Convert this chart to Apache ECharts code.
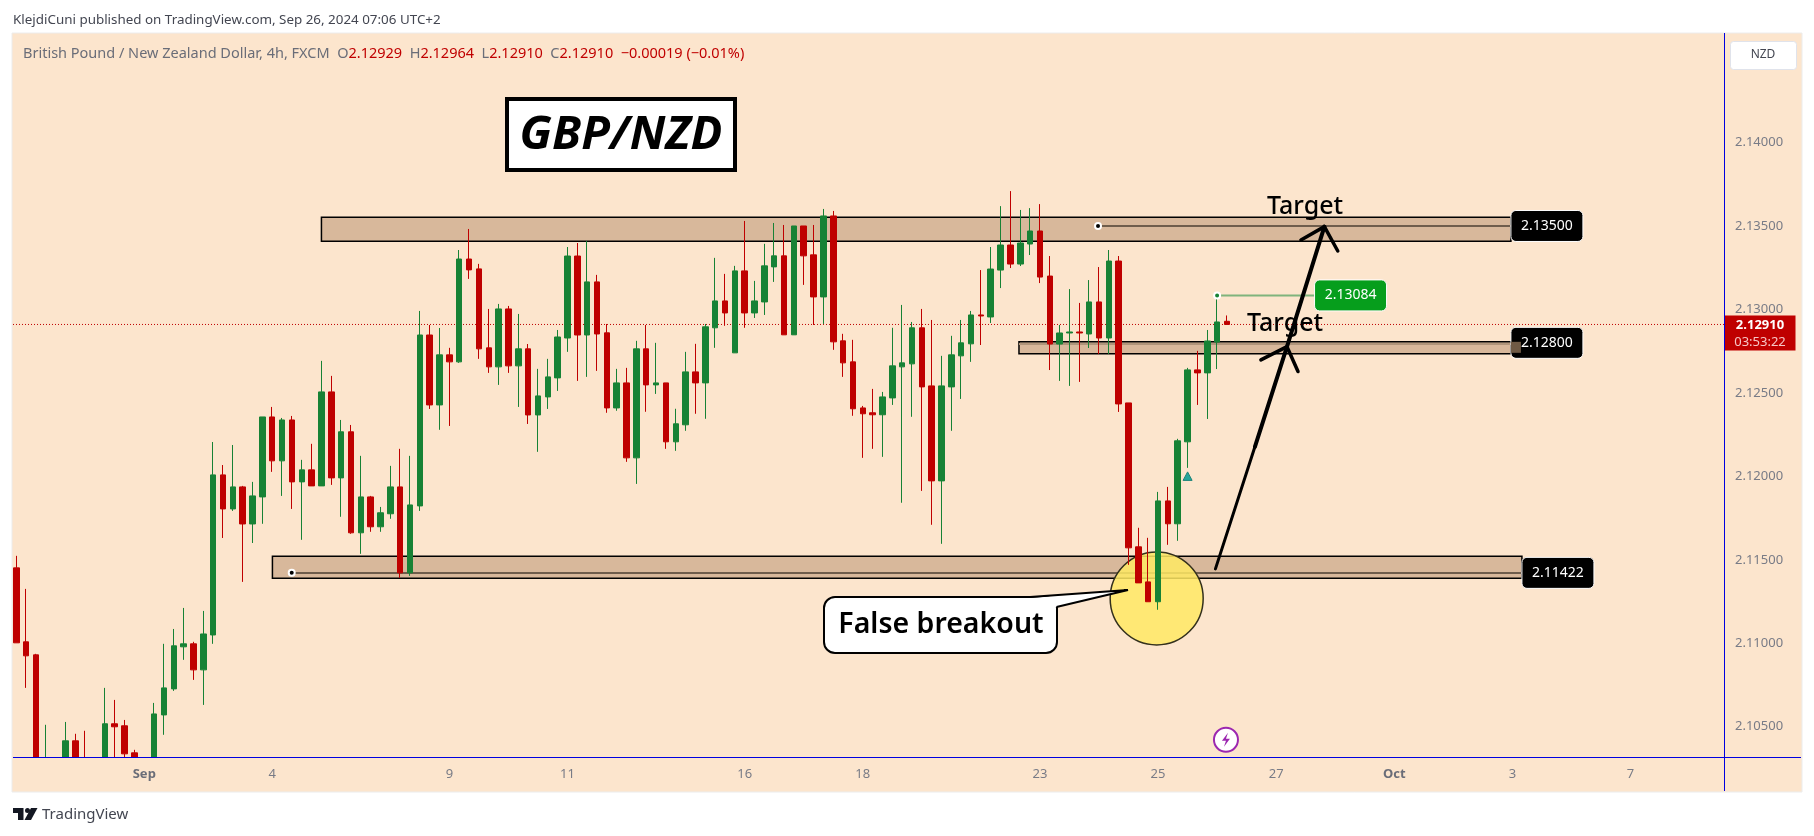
<!DOCTYPE html>
<html>
<head>
<meta charset="utf-8">
<title>GBP/NZD</title>
<script src="https://cdn.jsdelivr.net/npm/echarts@6/dist/echarts.min.js"></script>
<style>
html, body { margin: 0; padding: 0; background: #fff; }
#chart { width: 1814px; height: 836px; }
</style>
</head>
<body>
<div id="chart"></div>
<script>
// 4h candles. Bars below the axis floor are estimates
var opens = [
    2.11452,2.11009,2.10931,2.10230,2.10290,2.10270,2.10416,2.10310,2.10280,2.10290,
    2.10518,2.10506,2.10344,2.10260,2.10300,2.10571,2.10727,2.10979,2.10997,2.10841,
    2.11050,2.12009,2.11805,2.11937,2.11715,2.11877,2.12356,2.12093,2.12338,2.11967,
    2.12039,2.11943,2.12506,2.11991,2.12267,2.11662,2.11877,2.11698,2.11776,2.11937,
    2.11422,2.11823,2.12847,2.12428,2.12728,2.12686,2.13302,2.13243,2.12770,2.12656,
    2.13003,2.12662,2.12764,2.12368,2.12476,2.12590,2.12829,2.13320,2.12847,2.13165,
    2.12860,2.12410,2.12560,2.12111,2.12764,2.12548,2.12560,2.12207,2.12309,2.12626,
    2.12560,2.12890,2.13051,2.12740,2.13231,2.12979,2.13045,2.13255,2.13321,2.12848,
    2.13500,2.13327,2.13075,2.13560,2.12812,2.12686,2.12410,2.12381,2.12369,2.12470,
    2.12656,2.12674,2.12890,2.12542,2.11973,2.12536,2.12722,2.12794,2.12967,2.12955,
    2.13236,2.13386,2.13272,2.13392,2.13470,2.13200,2.12793,2.12859,2.12865,2.12853,
    2.13045,2.12829,2.13290,2.12440,2.11578,2.11368,2.11249,2.11853,2.11716,2.12207,
    2.12638,2.12620,2.12805,2.12929
];
var closes = [
    2.11003,2.10925,2.10230,2.10290,2.10250,2.10416,2.10280,2.10280,2.10300,2.10518,
    2.10500,2.10338,2.10280,2.10300,2.10577,2.10733,2.10985,2.10997,2.10841,2.11056,
    2.12009,2.11805,2.11937,2.11715,2.11883,2.12356,2.12093,2.12338,2.11967,2.12039,
    2.11943,2.12506,2.11991,2.12267,2.11662,2.11877,2.11698,2.11782,2.11937,2.11422,
    2.11829,2.12847,2.12428,2.12728,2.12686,2.13302,2.13237,2.12764,2.12656,2.13003,
    2.12662,2.12764,2.12368,2.12482,2.12596,2.12835,2.13320,2.12847,2.13165,2.12853,
    2.12410,2.12560,2.12111,2.12764,2.12548,2.12560,2.12207,2.12315,2.12626,2.12560,
    2.12896,2.13051,2.12979,2.13231,2.12979,2.13051,2.13261,2.13321,2.12848,2.13500,
    2.13321,2.13075,2.13560,2.12806,2.12680,2.12405,2.12375,2.12369,2.12476,2.12662,
    2.12680,2.12890,2.12536,2.11973,2.12542,2.12728,2.12800,2.12967,2.12961,2.13242,
    2.13386,2.13272,2.13398,2.13470,2.13194,2.12793,2.12859,2.12865,2.12859,2.13045,
    2.12829,2.13290,2.12434,2.11572,2.11362,2.11249,2.11853,2.11716,2.12213,2.12638,
    2.12620,2.12811,2.12925,2.12910
];
var lows = [
    2.11003,2.10733,2.10200,2.10220,2.10200,2.10230,2.10250,2.10260,2.10260,2.10270,
    2.10300,2.10300,2.10260,2.10240,2.10280,2.10452,2.10715,2.10901,2.10781,2.10631,
    2.10997,2.11631,2.11793,2.11368,2.11601,2.11716,2.12027,2.11883,2.11805,2.11620,
    2.11943,2.11943,2.11949,2.11758,2.11656,2.11536,2.11668,2.11668,2.11746,2.11392,
    2.11404,2.11793,2.12404,2.12279,2.12302,2.12680,2.13183,2.12704,2.12620,2.12548,
    2.12620,2.12416,2.12314,2.12147,2.12404,2.12512,2.12746,2.12572,2.12596,2.12632,
    2.12381,2.12393,2.12087,2.11955,2.12387,2.12494,2.12165,2.12153,2.12273,2.12375,
    2.12345,2.12770,2.12902,2.12740,2.12890,2.12949,2.12967,2.13165,2.12848,2.12848,
    2.13147,2.12907,2.12913,2.12758,2.12596,2.12363,2.12111,2.12165,2.12117,2.12428,
    2.11842,2.12357,2.11913,2.11710,2.11596,2.12273,2.12464,2.12686,2.12787,2.12919,
    2.13128,2.13248,2.13260,2.13326,2.13158,2.12637,2.12572,2.12542,2.12566,2.12769,
    2.12733,2.12733,2.12386,2.11470,2.11362,2.11249,2.11201,2.11590,2.11614,2.12051,
    2.12428,2.12344,2.12643,2.12910
];
var highs = [
    2.11524,2.11326,2.10937,2.10512,2.10310,2.10529,2.10458,2.10476,2.10315,2.10733,
    2.10661,2.10541,2.10362,2.10315,2.10643,2.10997,2.11086,2.11212,2.11009,2.11194,
    2.12206,2.12068,2.12188,2.11943,2.11967,2.12356,2.12416,2.12350,2.12362,2.12099,
    2.12195,2.12692,2.12602,2.12338,2.12308,2.12123,2.11883,2.11817,2.12063,2.12165,
    2.12123,2.12991,2.12907,2.12889,2.12770,2.13356,2.13482,2.13273,2.13003,2.13033,
    2.13021,2.12973,2.12793,2.12644,2.12704,2.12877,2.13374,2.13398,2.13410,2.13207,
    2.12913,2.12644,2.12650,2.12812,2.12907,2.12800,2.12560,2.12405,2.12746,2.12794,
    2.12913,2.13309,2.13213,2.13261,2.13530,2.13171,2.13393,2.13518,2.13506,2.13500,
    2.13500,2.13506,2.13602,2.13590,2.12854,2.12818,2.12422,2.12524,2.12506,2.12890,
    2.13027,2.12925,2.13003,2.12937,2.12722,2.12842,2.12937,2.12991,2.13236,2.13374,
    2.13619,2.13709,2.13596,2.13607,2.13631,2.13320,2.12907,2.13122,2.13039,2.13176,
    2.13254,2.13356,2.13320,2.12440,2.11692,2.11632,2.11907,2.11937,2.12225,2.12650,
    2.12752,2.12877,2.13084,2.12964
];

var tickBars = [13, 26, 44, 56, 74, 86, 104, 116, 128, 140, 152, 164];
var tickLabels = ['Sep', '4', '9', '11', '16', '18', '23', '25', '27', 'Oct', '3', '7'];
var priceTicks = [2.105, 2.11, 2.115, 2.12, 2.125, 2.13, 2.135, 2.14];

// drawn zones, in bar numbers and prices
var zoneStart = [31.0, 101.87, 26.02];
var zoneEnd = [151.85, 151.85, 152.97];
var zoneTop = [2.13552, 2.12806, 2.11522];
var zoneBottom = [2.13408, 2.12734, 2.1139];
var levels = [2.135, 2.128, 2.11422];
var levelStart = [109.9, null, 27.98];
var levelText = ['2.13500', '2.12800', '2.11422'];
var highMark = 2.13084;
var lastPrice = 2.1291;

var BAR_COUNT = 174;
var categories = [];
for (var n = 0; n < BAR_COUNT; n++) {
    categories.push(String(n));
}
var candleData = [];
for (var k = 0; k < opens.length; k++) {
    candleData.push([opens[k], closes[k], lows[k], highs[k]]);
}

var UI_FONT = '"Noto Sans", sans-serif';
var GREY = '#787b86';
var PANE_BG = '#fce5cd';
var ZONE_BG = '#d8b89b';
var BLUE = '#0000e0';

function txt(text, x, y, fill, size, extra) {
    var style = {
        text: text, x: x, y: y, fill: fill,
        fontSize: size, fontFamily: UI_FONT,
        verticalAlign: 'middle', align: 'left'
    };
    for (var key in extra) {
        style[key] = extra[key];
    }
    return { type: 'text', silent: true, z: 8, style: style };
}

function tag(api, label, xBar, price, color) {
    var p = api.coord([xBar, price]);
    return [
        { type: 'rect', shape: { x: p[0], y: p[1] - 15.5, width: 72, height: 31, r: 5 },
          style: { fill: color, stroke: '#fff', lineWidth: 1 } },
        { type: 'text', style: { text: label, x: p[0] + 36, y: p[1], fill: '#fff', fontSize: 14,
          fontFamily: UI_FONT, align: 'center', verticalAlign: 'middle' } }
    ];
}

function dot(api, bar, price, color) {
    var p = api.coord([bar, price]);
    return { type: 'circle', shape: { cx: p[0], cy: p[1], r: 3 },
             style: { fill: color, stroke: '#fff', lineWidth: 2 } };
}

// zones, level lines and the yellow circle sit behind the candles
function renderBack(params, api) {
    var kids = [];
    for (var i = 0; i < zoneStart.length; i++) {
        var a = api.coord([zoneStart[i], zoneTop[i]]);
        var b = api.coord([zoneEnd[i], zoneBottom[i]]);
        kids.push({ type: 'rect', shape: { x: a[0], y: a[1], width: b[0] - a[0], height: b[1] - a[1] },
                    style: { fill: ZONE_BG, stroke: '#000', lineWidth: 1.5 } });
        var ly = Math.round(api.coord([0, levels[i]])[1]);
        if (levelStart[i] !== null) {
            kids.push({ type: 'line', shape: { x1: api.coord([levelStart[i], 0])[0], y1: ly, x2: b[0], y2: ly },
                        style: { stroke: '#6f5d4c', lineWidth: 2 } });
            kids.push(dot(api, levelStart[i], levels[i], '#000'));
        } else {
            kids.push({ type: 'line', shape: { x1: a[0], y1: ly + 1, x2: b[0], y2: ly + 1 },
                        style: { stroke: '#b0957b', lineWidth: 2 } });
        }
    }
    var h = api.coord([122, highMark]);
    kids.push({ type: 'line', shape: { x1: h[0], y1: h[1], x2: h[0] + 100, y2: h[1] },
                style: { stroke: '#7fb47c', lineWidth: 2 } });
    var ly2 = api.coord([0, lastPrice])[1];
    kids.push({ type: 'line', shape: { x1: 13, y1: ly2, x2: 1724, y2: ly2 },
                style: { stroke: '#bf0000', lineWidth: 1, lineDash: [1, 2] } });
    var c = api.coord([115.86, 2.11269]);
    kids.push({ type: 'circle', shape: { cx: c[0], cy: c[1], r: 46.5 },
                style: { fill: 'rgba(255,233,100,0.85)', stroke: '#33301c', lineWidth: 1.5 } });
    return { type: 'group', children: kids };
}

// arrows, price tags and the small markers sit in front
function renderFront(params, api) {
    var kids = [];
    function stroke(points, width) {
        var pts = [];
        for (var j = 0; j < points.length; j++) {
            pts.push(api.coord(points[j]));
        }
        kids.push({ type: 'polyline', shape: { points: pts },
                    style: { stroke: '#000', fill: null, lineWidth: width, lineCap: 'round', lineJoin: 'round' } });
    }
    stroke([[121.83, 2.11446], [125.84, 2.12177]], 3);
    stroke([[125.84, 2.12177], [129.1, 2.12777], [132.9, 2.13496]], 4);
    stroke([[130.52, 2.13416], [132.9, 2.13496], [134.26, 2.1335]], 3.5);
    stroke([[126.45, 2.12698], [129.1, 2.12777], [130.22, 2.12628]], 3.5);

    kids = kids.concat(tag(api, levelText[0], zoneEnd[0], levels[0], '#000'));
    kids = kids.concat(tag(api, levelText[1], zoneEnd[1], levels[1], '#000'));
    kids = kids.concat(tag(api, levelText[2], zoneEnd[2], levels[2], '#000'));
    kids = kids.concat(tag(api, highMark.toFixed(5), 131.9, highMark, '#069e1c'));
    kids.push(dot(api, 122, highMark, '#178235'));

    var z = api.coord([zoneEnd[1], levels[1]]);
    kids.push({ type: 'rect', shape: { x: z[0], y: z[1] - 1, width: 10, height: 11 }, style: { fill: '#6f5a45' } });

    var t = api.coord([119, 2.12]);
    kids.push({ type: 'polygon', shape: { points: [[t[0], t[1] - 4.5], [t[0] + 4.5, t[1] + 4], [t[0] - 4.5, t[1] + 4]] },
                style: { fill: '#26a69a', stroke: '#1c8378', lineWidth: 1 } });

    var f = api.coord([122.9, 2.10422]);
    kids.push({ type: 'circle', shape: { cx: f[0], cy: f[1], r: 12 },
                style: { fill: '#fff', stroke: '#9c27b0', lineWidth: 2 } });
    kids.push({ type: 'polygon', shape: { points: [[f[0] + 2, f[1] - 7], [f[0] - 4, f[1] + 1], [f[0], f[1] + 1],
                [f[0] - 2, f[1] + 7], [f[0] + 4, f[1] - 1], [f[0], f[1] - 1]] },
                style: { fill: '#9c27b0' } });

    var p = api.coord([173.5, lastPrice]);
    kids.push({ type: 'rect', shape: { x: p[0] + 0.5, y: p[1] - 9, width: 71, height: 35 }, style: { fill: '#bf0000' } });
    kids.push({ type: 'text', style: { text: lastPrice.toFixed(5), x: p[0] + 36, y: p[1] + 1, fill: '#fff', fontSize: 13,
                fontWeight: 'bold', fontFamily: UI_FONT, align: 'center', verticalAlign: 'middle' } });
    kids.push({ type: 'text', style: { text: '03:53:22', x: p[0] + 36, y: p[1] + 18, fill: '#f6c6c6', fontSize: 13,
                fontFamily: UI_FONT, align: 'center', verticalAlign: 'middle' } });
    return { type: 'group', children: kids };
}

var chart = echarts.init(document.getElementById('chart'));
var option = {
    animation: false,
    backgroundColor: '#fff',
    textStyle: { fontFamily: UI_FONT },
    grid: { left: 11.4, right: 90, top: 34, bottom: 79 },
    xAxis: [{
        type: 'category',
        z: 4,
        data: categories,
        axisLine: { show: false },
        axisTick: { show: false },
        splitLine: { show: false },
        axisLabel: {
            margin: 11,
            color: GREY,
            fontSize: 13,
            hideOverlap: false,
            interval: function(index) {
                return tickBars.indexOf(index) >= 0;
            },
            formatter: function(value, index) {
                var label = tickLabels[tickBars.indexOf(index)];
                return (label === 'Sep' || label === 'Oct') ? '{b|' + label + '}' : label;
            },
            rich: { b: { color: '#6a6d78', fontSize: 13, fontWeight: 'bold', fontFamily: UI_FONT } }
        }
    }, {
        // same width as the bars, lets annotations sit between two bars
        type: 'value', show: false, min: -0.5, max: BAR_COUNT - 0.5, splitLine: { show: false }
    }],
    yAxis: {
        type: 'value',
        position: 'right',
        min: 2.10319,
        max: 2.1465,
        axisLine: { show: false },
        axisTick: { show: false },
        splitLine: { show: false },
        axisLabel: {
            customValues: priceTicks,
            margin: 11,
            color: GREY,
            fontSize: 13,
            formatter: function(value) {
                return value.toFixed(5);
            }
        }
    },
    series: [{
        type: 'custom', name: 'zones', z: 1, xAxisIndex: 1, silent: true,
        renderItem: renderBack, data: [[0, lastPrice]], encode: { x: 0, y: 1 }
    }, {
        type: 'candlestick', name: 'GBPNZD', z: 2, xAxisIndex: 0, barWidth: 6, data: candleData,
        itemStyle: { color: '#178235', color0: '#bf0000', borderColor: '#178235', borderColor0: '#bf0000', borderWidth: 1 }
    }, {
        type: 'custom', name: 'notes', z: 3, xAxisIndex: 1, silent: true,
        renderItem: renderFront, data: [[0, lastPrice]], encode: { x: 0, y: 1 }
    }],
    graphic: [
        { type: 'rect', silent: true, z: -5, shape: { x: 12, y: 33, width: 1790, height: 759 },
          style: { fill: PANE_BG, stroke: '#ececec', lineWidth: 1 } },
        // candlesticks only drop whole boxes at the floor, so the overhang is masked
        { type: 'rect', silent: true, z: 2.5, shape: { x: 13, y: 758, width: 1711, height: 33 }, style: { fill: PANE_BG } },
        { type: 'line', silent: true, z: 6, shape: { x1: 13, y1: 757.5, x2: 1801, y2: 757.5 }, style: { stroke: BLUE, lineWidth: 1 } },
        { type: 'line', silent: true, z: 6, shape: { x1: 1724.5, y1: 33, x2: 1724.5, y2: 791 }, style: { stroke: BLUE, lineWidth: 1 } },

        txt('KlejdiCuni published on TradingView.com, Sep 26, 2024 07:06 UTC+2', 13, 20, '#434651', 13.4),
        {
            type: 'text', silent: true, z: 8,
            style: {
                x: 23, y: 54, verticalAlign: 'middle', fontFamily: UI_FONT, fontSize: 14.5, fill: '#6a6d78',
                text: '{g|British Pound / New Zealand Dollar, 4h, FXCM}  {g|O}{r|2.12929}  {g|H}{r|2.12964}  {g|L}{r|2.12910}  {g|C}{r|2.12910}  {r|\u22120.00019 (\u22120.01%)}',
                rich: { g: { fill: '#6a6d78', fontSize: 14.5, fontFamily: UI_FONT }, r: { fill: '#c00000', fontSize: 14.5, fontFamily: UI_FONT } }
            }
        },

        { type: 'rect', silent: true, z: 6, shape: { x: 507, y: 99, width: 228, height: 71 },
          style: { fill: '#fff', stroke: '#000', lineWidth: 4 } },
        txt('GBP/NZD', 621, 136, '#000', 47, { align: 'center', fontWeight: 'bold', fontStyle: 'italic' }),

        { type: 'rect', silent: true, z: 6, shape: { x: 1730.5, y: 41.5, width: 66, height: 28, r: 3 },
          style: { fill: '#fff', stroke: '#e0e3eb', lineWidth: 1 } },
        txt('NZD', 1763, 55, '#434651', 12, { align: 'center' }),

        txt('Target', 1305, 207, '#000', 25, { align: 'center', fontWeight: 500 }),
        txt('Target', 1285, 324, '#000', 25, { align: 'center', fontWeight: 500 }),

        // speech bubble
        { type: 'rect', silent: true, z: 6, shape: { x: 824, y: 597, width: 233, height: 56, r: 11 },
          style: { fill: '#fff', stroke: '#000', lineWidth: 2 } },
        { type: 'polygon', silent: true, z: 7, shape: { points: [[1030, 598], [1127, 590], [1056, 607], [1030, 607]] },
          style: { fill: '#fff' } },
        { type: 'polyline', silent: true, z: 7, shape: { points: [[1030, 597], [1128, 590], [1056.5, 607]] },
          style: { stroke: '#000', fill: null, lineWidth: 2 } },
        txt('False breakout', 941, 625, '#000', 28.5, { align: 'center', fontWeight: 600 }),

        // TradingView footer
        { type: 'polygon', silent: true, z: 6, shape: { points: [[13, 808], [23.5, 808], [23.5, 820], [18, 820], [18, 813], [13, 813]] }, style: { fill: '#131722' } },
        { type: 'circle', silent: true, z: 6, shape: { cx: 27.5, cy: 810.5, r: 2.5 }, style: { fill: '#131722' } },
        { type: 'polygon', silent: true, z: 6, shape: { points: [[31, 808], [37.5, 808], [31, 820], [24.5, 820]] }, style: { fill: '#131722' } },
        txt('TradingView', 42, 815, '#434651', 15)
    ]
};
chart.setOption(option);
</script>
</body>
</html>
